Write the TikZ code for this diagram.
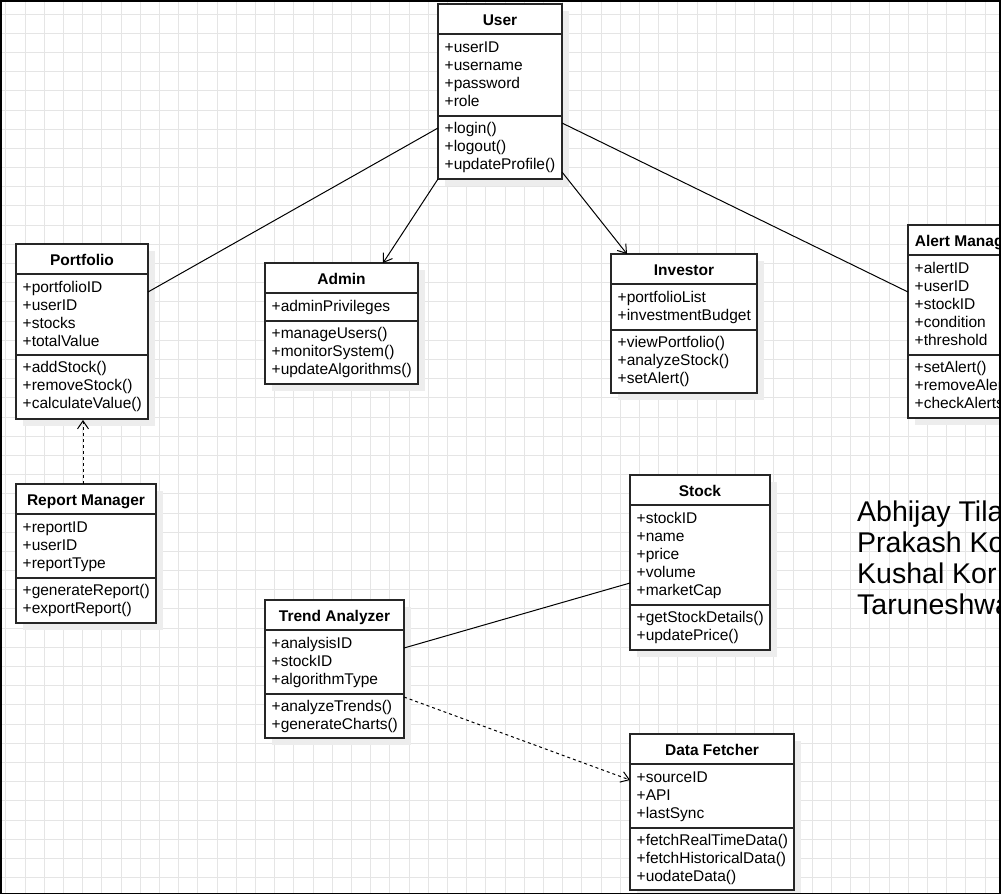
\documentclass[tikz,border=0pt]{standalone}
\usepackage{fontspec}
\setmainfont{Liberation Sans}
\usetikzlibrary{arrows.meta,calc}
\tikzset{
  gridline/.style={draw=black!10,line width=0.9pt},
  shadowc/.style={fill=black!7},
  classbox/.style={draw=black!85,fill=white,line width=1.2pt,inner sep=0pt,outer sep=0pt},
  sepline/.style={draw=black!85,line width=1.2pt},
  titletext/.style={font=\fontsize{15.5}{18}\selectfont\bfseries,inner sep=0pt,anchor=base},
  itemtext/.style={font=\fontsize{15.5}{18}\selectfont,inner sep=0pt,anchor=base west},
  assoc/.style={draw=black,line width=1pt},
  openarrow/.style={-{Straight Barb[length=8pt,width=11pt,line width=1pt]}},
  dashedlink/.style={dash pattern=on 3pt off 3pt},
  namestext/.style={font=\fontsize{28.5}{31}\selectfont,inner sep=0pt,anchor=base west}
}
% #1 name, #2 x1, #3 y1, #4 x2, #5 y2, #6 attribute separator y, #7 title, #8 attributes, #9 methods
\newcommand{\umlclass}[9]{%
  \fill[shadowc] (#2+7,#3+7) rectangle (#4+7,#5+7);
  \node[classbox,minimum width={#4-#2},minimum height={#5-#3},anchor=north west] (#1) at (#2,#3) {};
  \draw[sepline] (#2,#3+30) -- (#4,#3+30);
  \draw[sepline] (#2,#6) -- (#4,#6);
  \node[titletext] (#1-t) at ({(#2+#4)/2},#3+21) {#7};
  \foreach \t [count=\i] in {#8} {\node[itemtext] (#1-a\i) at (#2+6.5,#3+30+18*\i) {\t};}
  \foreach \t [count=\i] in {#9} {\node[itemtext] (#1-m\i) at (#2+6.5,#6+17.5+18*\i-18) {\t};}
}
\begin{document}
\begin{tikzpicture}[x=1pt,y=-1pt]
\useasboundingbox (0,0) rectangle (1001,895);
\fill[white] (0,0) rectangle (1001,895);
\begin{scope}
\clip (0,0) rectangle (1000,893);
\foreach \k in {0,...,51} {\draw[gridline] (5.8+19.2*\k,0) -- (5.8+19.2*\k,895);}
\foreach \k in {0,...,46} {\draw[gridline] (0,14+19.19*\k) -- (1001,14+19.19*\k);}

\umlclass{user}{438}{4}{562}{179}{116}{User}{+userID,+username,+password,+role}{+login(),+logout(),+updateProfile()}
\umlclass{portfolio}{16}{244}{148}{419}{355}{Portfolio}{+portfolioID,+userID,+stocks,+totalValue}{+addStock(),+removeStock(),+calculateValue()}
\umlclass{admin}{265}{263}{418}{384}{321}{Admin}{+adminPrivileges}{+manageUsers(),+monitorSystem(),+updateAlgorithms()}
\umlclass{investor}{611}{254}{757}{393}{330}{Investor}{+portfolioList,+investmentBudget}{+viewPortfolio(),+analyzeStock(),+setAlert()}
\umlclass{alert}{908}{225}{1025}{418}{355}{Alert Manager}{+alertID,+userID,+stockID,+condition,+threshold}{+setAlert(),+removeAlert(),+checkAlerts()}
\umlclass{report}{16}{484}{156}{623}{578}{Report Manager}{+reportID,+userID,+reportType}{+generateReport(),+exportReport()}
\umlclass{stock}{630}{475}{770}{650}{605}{Stock}{+stockID,+name,+price,+volume,+marketCap}{+getStockDetails(),+updatePrice()}
\umlclass{trend}{265}{600}{404}{738}{694}{Trend Analyzer}{+analysisID,+stockID,+algorithmType}{+analyzeTrends(),+generateCharts()}
\umlclass{fetcher}{630}{734}{794}{890}{828}{Data Fetcher}{+sourceID,+API,+lastSync}{+fetchRealTimeData(),+fetchHistoricalData(),+uodateData()}

\draw[assoc] ($(user.north west)+(0,124)$) -- ($(portfolio.north east)+(0,48)$);
\draw[assoc,openarrow] (user.south west) -- ($(admin.north west)+(118,0)$);
\draw[assoc,openarrow] ($(user.north east)+(0,168)$) -- ($(investor.north west)+(16,0)$);
\draw[assoc] ($(user.north east)+(0,119)$) -- ($(alert.north west)+(0,67)$);
\draw[assoc,openarrow,dashedlink] ($(report.north west)+(67,0)$) -- ($(portfolio.south west)+(67,1)$);
\draw[assoc] ($(trend.north east)+(0,48)$) -- ($(stock.north west)+(0,108)$);
\draw[assoc,openarrow,dashedlink] ($(trend.north east)+(0,97)$) -- ($(fetcher.north west)+(0,46)$);

\node[namestext] (n1) at (857,521) {Abhijay Tilak};
\node[namestext] (n2) at (857,552) {Prakash Ko};
\node[namestext] (n3) at (857,583) {Kushal Kor};
\node[namestext] (n4) at (857,614) {Taruneshwa};
\end{scope}
\draw[black,line width=1.5pt] (0.75,0.75) rectangle (1000,893.5);
\end{tikzpicture}
\end{document}
